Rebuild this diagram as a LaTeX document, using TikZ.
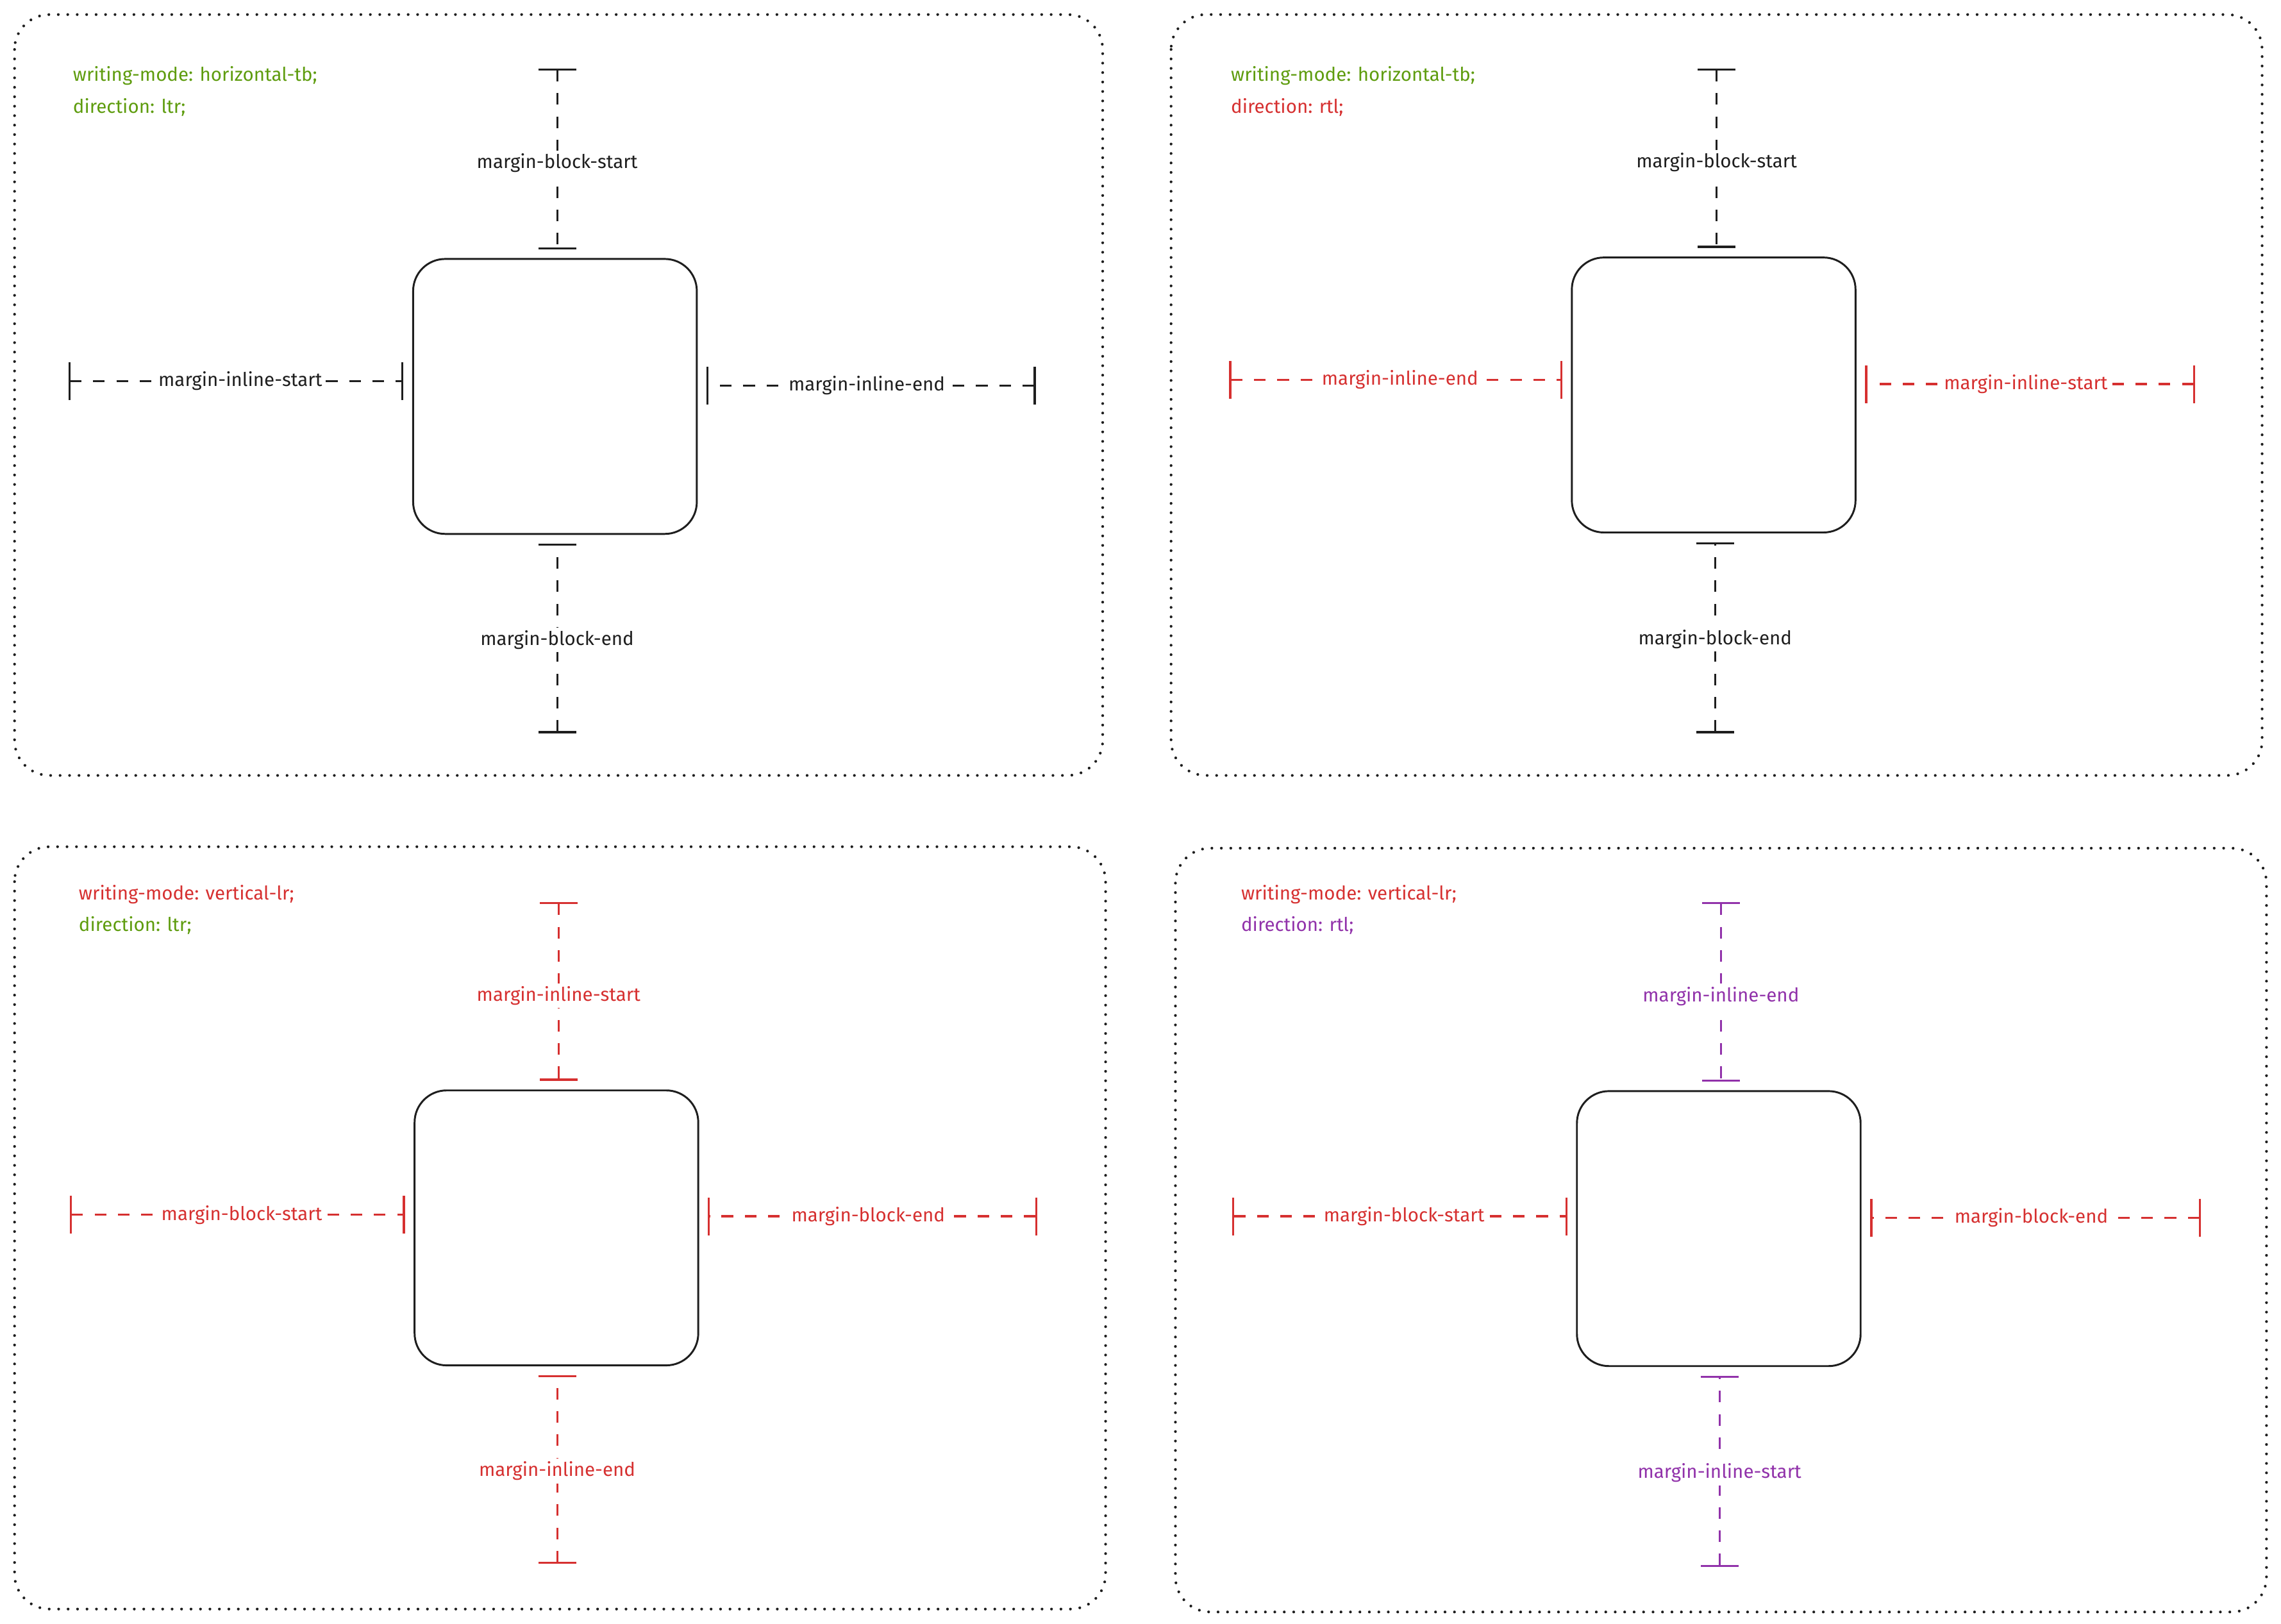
\documentclass[tikz,border=0pt]{standalone}
\usepackage{fontspec}
\setmainfont{Fira Sans}
\usepackage{xcolor}
\usetikzlibrary{arrows.meta}
\definecolor{ink}{HTML}{1E1E1E}
\definecolor{okgreen}{HTML}{5E9C0E}
\definecolor{flipred}{HTML}{D63030}
\definecolor{violet}{HTML}{9132AA}

\begin{document}
\begin{tikzpicture}[
  x=1pt, y=-1pt,
  font=\fontsize{13}{15}\selectfont,
  frame/.style={draw=ink, line width=1.9pt, dash pattern=on 0pt off 6.5pt,
    line cap=round, rounded corners=24pt},
  hdr/.style={anchor=west, inner sep=0pt, text=#1},
  elem/.style={draw=ink, line width=1.3pt, rounded corners=22pt,
    minimum width=195pt, minimum height=189pt, inner sep=0pt},
  gap/.style={color=#1, line width=1.4pt, dash pattern=on 8pt off 8pt,
    {Bar[width=26pt]}-{Bar[width=26pt]}, shorten >=6pt},
  lbl/.style={fill=white, inner sep=2pt, midway}
]
\useasboundingbox (0,0) rectangle (1568,1116);

% horizontal-tb, ltr
\draw[frame] (10,10) rectangle (758,533);
\node[hdr=okgreen] (h1a) at (50,52) {writing-mode: horizontal-tb;};
\node[hdr=okgreen] (h1b) at (50,74) {direction: ltr;};
\node[elem] (box1) at (381.5,272.5) {};
\coordinate (t1) at (383,47);
\coordinate (b1) at (383,504);
\coordinate (l1) at (47,262);
\coordinate (r1) at (712,265);
\draw[gap=ink] (t1) -- (t1 |- box1.north) node[lbl] {margin-block-start};
\draw[gap=ink] (b1) -- (b1 |- box1.south) node[lbl, pos=0.47] {margin-block-end};
\draw[gap=ink] (l1) -- (l1 -| box1.west) node[lbl] {margin-inline-start};
\draw[gap=ink] (r1) -- (r1 -| box1.east) node[lbl] {margin-inline-end};

% horizontal-tb, rtl
\draw[frame] (805,10) rectangle (1555,533);
\node[hdr=okgreen] (h2a) at (846,52) {writing-mode: horizontal-tb;};
\node[hdr=flipred] (h2b) at (846,74) {direction: rtl;};
\node[elem] (box2) at (1178,271.5) {};
\coordinate (t2) at (1180,47);
\coordinate (b2) at (1179,504);
\coordinate (l2) at (845,261);
\coordinate (r2) at (1509,264);
\draw[gap=ink] (t2) -- (t2 |- box2.north) node[lbl] {margin-block-start};
\draw[gap=ink] (b2) -- (b2 |- box2.south) node[lbl, pos=0.47] {margin-block-end};
\draw[gap=flipred] (l2) -- (l2 -| box2.west) node[lbl] {margin-inline-end};
\draw[gap=flipred] (r2) -- (r2 -| box2.east) node[lbl] {margin-inline-start};

% vertical-lr, ltr
\draw[frame] (10,582) rectangle (760,1106);
\node[hdr=flipred] (h3a) at (54,615) {writing-mode: vertical-lr;};
\node[hdr=okgreen] (h3b) at (54,636) {direction: ltr;};
\node[elem] (box3) at (382.5,844) {};
\coordinate (t3) at (384,620);
\coordinate (b3) at (383,1075);
\coordinate (l3) at (48,835);
\coordinate (r3) at (713,836);
\draw[gap=flipred] (t3) -- (t3 |- box3.north) node[lbl] {margin-inline-start};
\draw[gap=flipred] (b3) -- (b3 |- box3.south) node[lbl, pos=0.47] {margin-inline-end};
\draw[gap=flipred] (l3) -- (l3 -| box3.west) node[lbl] {margin-block-start};
\draw[gap=flipred] (r3) -- (r3 -| box3.east) node[lbl] {margin-block-end};

% vertical-lr, rtl
\draw[frame] (808,583) rectangle (1558,1108);
\node[hdr=flipred] (h4a) at (853,615) {writing-mode: vertical-lr;};
\node[hdr=violet] (h4b) at (853,636) {direction: rtl;};
\node[elem] (box4) at (1181.5,844.5) {};
\coordinate (t4) at (1183,620);
\coordinate (b4) at (1182,1077);
\coordinate (l4) at (847,836);
\coordinate (r4) at (1513,837);
\draw[gap=violet] (t4) -- (t4 |- box4.north) node[lbl] {margin-inline-end};
\draw[gap=violet] (b4) -- (b4 |- box4.south) node[lbl, pos=0.47] {margin-inline-start};
\draw[gap=flipred] (l4) -- (l4 -| box4.west) node[lbl] {margin-block-start};
\draw[gap=flipred] (r4) -- (r4 -| box4.east) node[lbl] {margin-block-end};
\end{tikzpicture}
\end{document}
